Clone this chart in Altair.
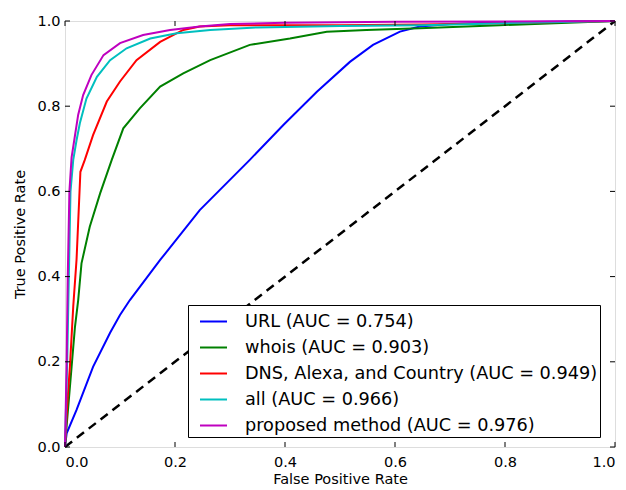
import altair as alt
import pandas as pd

series_names = [
    "URL (AUC = 0.754)",
    "whois (AUC = 0.903)",
    "DNS, Alexa, and Country (AUC = 0.949)",
    "all (AUC = 0.966)",
    "proposed method (AUC = 0.976)",
]
series_colors = ["#0000ff", "#008000", "#ff0000", "#00bfbf", "#bf00bf"]

url_fpr = [0, 0.003, 0.021, 0.051, 0.082, 0.100, 0.118, 0.173, 0.245, 0.336, 0.397, 0.458, 0.518, 0.560, 0.609, 0.645, 0.700, 0.800, 1.0]
url_tpr = [0, 0.032, 0.087, 0.188, 0.268, 0.310, 0.345, 0.439, 0.556, 0.674, 0.756, 0.834, 0.904, 0.944, 0.975, 0.987, 0.993, 0.997, 1.0]

whois_fpr = [0, 0.003, 0.012, 0.018, 0.024, 0.030, 0.045, 0.064, 0.085, 0.106, 0.136, 0.173, 0.215, 0.264, 0.336, 0.409, 0.476, 0.548, 0.645, 0.790, 1.0]
whois_tpr = [0, 0.050, 0.188, 0.280, 0.345, 0.431, 0.517, 0.596, 0.674, 0.748, 0.795, 0.846, 0.877, 0.908, 0.944, 0.959, 0.975, 0.979, 0.983, 0.990, 1.0]

dns_fpr = [0, 0.004, 0.009, 0.015, 0.021, 0.028, 0.036, 0.051, 0.076, 0.100, 0.130, 0.173, 0.215, 0.245, 0.300, 0.500, 0.650, 0.800, 1.0]
dns_tpr = [0, 0.100, 0.190, 0.330, 0.440, 0.646, 0.674, 0.732, 0.811, 0.858, 0.908, 0.951, 0.979, 0.987, 0.990, 0.990, 0.992, 0.995, 1.0]

all_fpr = [0, 0.004, 0.007, 0.010, 0.015, 0.021, 0.027, 0.039, 0.058, 0.082, 0.112, 0.155, 0.203, 0.264, 0.350, 0.500, 0.650, 0.800, 1.0]
all_tpr = [0, 0.200, 0.400, 0.600, 0.674, 0.720, 0.760, 0.818, 0.869, 0.908, 0.936, 0.959, 0.971, 0.979, 0.985, 0.988, 0.990, 0.995, 1.0]

prop_fpr = [0, 0.003, 0.005, 0.008, 0.012, 0.018, 0.024, 0.033, 0.048, 0.070, 0.100, 0.142, 0.191, 0.245, 0.300, 0.400, 0.600, 0.800, 1.0]
prop_tpr = [0, 0.200, 0.400, 0.600, 0.680, 0.730, 0.780, 0.826, 0.873, 0.920, 0.948, 0.967, 0.979, 0.987, 0.993, 0.996, 0.998, 0.999, 1.0]

diag_x = [0.0, 1.0]
diag_y = [0.0, 1.0]
tick_values = [0.0, 0.2, 0.4, 0.6, 0.8, 1.0]

W, H = 550, 426
FONT = "DejaVu Sans"

rows = []
for name, fx, ty in zip(series_names,
                        [url_fpr, whois_fpr, dns_fpr, all_fpr, prop_fpr],
                        [url_tpr, whois_tpr, dns_tpr, all_tpr, prop_tpr]):
    for i, (a, b) in enumerate(zip(fx, ty)):
        rows.append({"series": name, "fpr": a, "tpr": b, "idx": i})
df = pd.DataFrame(rows)
diag_df = pd.DataFrame({"fpr": diag_x, "tpr": diag_y})
ticks_df = pd.DataFrame({"v": tick_values})

xscale = alt.Scale(domain=[0, 1], nice=False, zero=False)
yscale = alt.Scale(domain=[0, 1], nice=False, zero=False)

xaxis = alt.Axis(values=tick_values, format=".1f", title="False Positive Rate",
                 grid=False, ticks=False, domain=False, labelFontSize=14.5,
                 titleFontSize=14.5, titleFontWeight="normal", labelPadding=8,
                 titlePadding=4, labelColor="black", titleColor="black",
                 labelFont=FONT, titleFont=FONT)
yaxis = alt.Axis(values=tick_values, format=".1f", title="True Positive Rate",
                 grid=False, ticks=False, domain=False, labelFontSize=14.5,
                 titleFontSize=14.5, titleFontWeight="normal", labelPadding=5,
                 titlePadding=9, labelColor="black", titleColor="black",
                 labelFont=FONT, titleFont=FONT)

diag = alt.Chart(diag_df).mark_line(color="black", strokeWidth=2.5, strokeDash=[9, 6]).encode(
    x=alt.X("fpr:Q", scale=xscale, axis=xaxis),
    y=alt.Y("tpr:Q", scale=yscale, axis=yaxis),
)

lines = alt.Chart(df).mark_line(strokeWidth=2).encode(
    x=alt.X("fpr:Q", scale=xscale),
    y=alt.Y("tpr:Q", scale=yscale),
    color=alt.Color("series:N",
                    scale=alt.Scale(domain=series_names, range=series_colors),
                    sort=series_names,
                    legend=alt.Legend(
                        title=None, orient="none", legendX=123, legendY=284,
                        symbolType="stroke", symbolStrokeWidth=2, symbolSize=729,
                        labelFontSize=17.7, labelFont=FONT, labelColor="black",
                        labelOffset=17, symbolOffset=9, padding=2, rowPadding=2.0,
                        strokeColor="black", fillColor="white",
                        labelLimit=1000)),
    order="idx:Q",
)

tick_len = 5
bottom_ticks = alt.Chart(ticks_df).mark_rule(color="black", strokeWidth=1).encode(
    x=alt.X("v:Q", scale=xscale), y=alt.value(H), y2=alt.value(H - tick_len))
top_ticks = alt.Chart(ticks_df).mark_rule(color="black", strokeWidth=1).encode(
    x=alt.X("v:Q", scale=xscale), y=alt.value(0), y2=alt.value(tick_len))
left_ticks = alt.Chart(ticks_df).mark_rule(color="black", strokeWidth=1).encode(
    y=alt.Y("v:Q", scale=yscale), x=alt.value(0), x2=alt.value(tick_len))
right_ticks = alt.Chart(ticks_df).mark_rule(color="black", strokeWidth=1).encode(
    y=alt.Y("v:Q", scale=yscale), x=alt.value(W), x2=alt.value(W - tick_len))

chart = alt.layer(diag, lines, bottom_ticks, top_ticks, left_ticks, right_ticks).properties(
    width=W, height=H,
    autosize=alt.AutoSizeParams(type="none"),
    padding={"left": 57, "top": 13, "right": 3, "bottom": 42},
).configure_view(stroke="black", strokeWidth=1.2).configure(background="white")

chart.save("out.html", embed_options={"renderer": "svg", "actions": False})
